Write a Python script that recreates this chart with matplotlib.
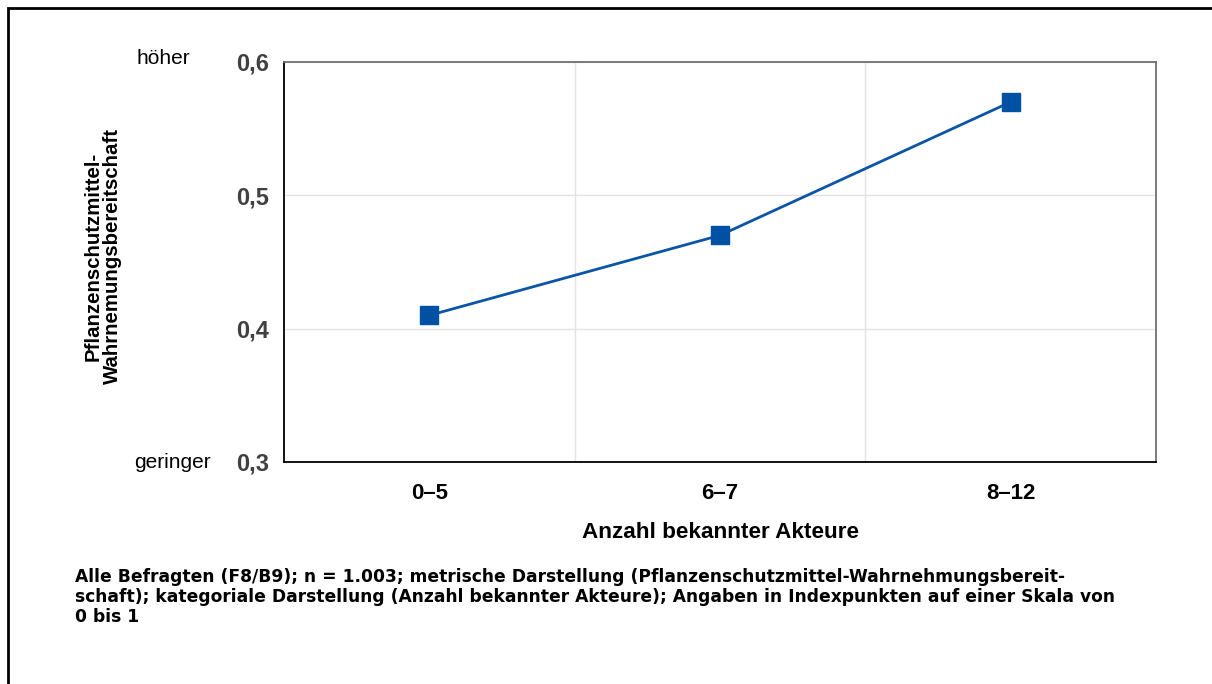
import matplotlib
matplotlib.use("Agg")
import matplotlib.pyplot as plt
from matplotlib import font_manager
from matplotlib.patches import Rectangle

# pick the regular-width Liberation Sans files (skip the Narrow cut)
def liberation(weight):
    for f in font_manager.fontManager.ttflist:
        if (f.name == 'Liberation Sans' and f.style == 'normal' and f.weight == weight
                and 'Narrow' not in f.fname):
            return f.fname
    return None

bold_file = liberation(700)
regular_file = liberation(400)
plt.rcParams['font.family'] = ['Liberation Sans', 'DejaVu Sans']

def fp(size, bold=True):
    path = bold_file if bold else regular_file
    if path:
        return font_manager.FontProperties(fname=path, size=size)
    return font_manager.FontProperties(size=size, weight='bold' if bold else 'normal')

# Index values per group of known actors
categories = ['0–5', '6–7', '8–12']
values = [0.41, 0.47, 0.57]
yticks = [0.3, 0.4, 0.5, 0.6]
ytick_labels = ['0,3', '0,4', '0,5', '0,6']

note = ("Alle Befragten (F8/B9); n = 1.003; metrische Darstellung (Pflanzenschutzmittel-Wahrnehmungsbereit-\n"
        "schaft); kategoriale Darstellung (Anzahl bekannter Akteure); Angaben in Indexpunkten auf einer Skala von\n"
        "0 bis 1")

fig = plt.figure(figsize=(12.12, 6.84), dpi=100)
ax = fig.add_axes([284/1212, 1 - 462/684, (1156 - 284)/1212, 400/684])

x = list(range(len(categories)))
ax.plot(x, values, color='#0a55a8', lw=2, marker='s', markersize=13.5,
        markerfacecolor='#0050a4', markeredgecolor='#0050a4', zorder=3)

ax.set_xlim(-0.5, len(categories) - 0.5)
ax.set_ylim(0.3, 0.6)
ax.set_yticks(yticks)
ax.set_yticklabels(ytick_labels, fontproperties=fp(17), color='#404040')
ax.set_xticks(x)
ax.set_xticklabels(categories, fontproperties=fp(16), color='black')
ax.set_xticks([0.5, 1.5], minor=True)
ax.tick_params(which='both', length=0)
ax.tick_params(axis='y', pad=11)
ax.tick_params(axis='x', pad=15)
ax.grid(axis='y', which='major', color='#e3e3e3', lw=1)
ax.grid(axis='x', which='minor', color='#e3e3e3', lw=1)
ax.set_axisbelow(True)

for side in ['top', 'right']:
    ax.spines[side].set_color('#707070')
    ax.spines[side].set_linewidth(1.3)
for side in ['left', 'bottom']:
    ax.spines[side].set_color('black')
    ax.spines[side].set_linewidth(1.3)

ax.set_xlabel('Anzahl bekannter Akteure', fontproperties=fp(16.2), labelpad=13)

fig.text(103/1212, 1 - 256/684, 'Pflanzenschutzmittel-\nWahrnemungsbereitschaft',
         rotation=90, ha='center', va='center', fontproperties=fp(14.7),
         linespacing=1.0)

fig.text(163/1212, 1 - 58/684, 'höher', ha='center', va='center', fontproperties=fp(15, False))
fig.text(172/1212, 1 - 462/684, 'geringer', ha='center', va='center', fontproperties=fp(15, False))

fig.text(75/1212, 1 - 568/684, note, ha='left', va='top', fontsize=12.3,
         fontweight='bold', family=['DejaVu Sans'], linespacing=1.15)

# outer frame of the figure
fig.patches.append(Rectangle((8/1212, -0.1), 1.2, 1 - 8/684 + 0.1,
                             transform=fig.transFigure, fill=False,
                             edgecolor='black', lw=2))

fig.savefig('out.png', dpi=100)
